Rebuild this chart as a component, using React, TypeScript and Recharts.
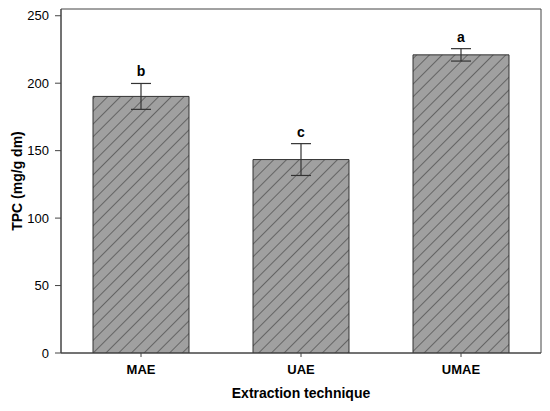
import React from "react";
import {
  ComposedChart,
  Bar,
  Line,
  XAxis,
  YAxis,
  ErrorBar,
  LabelList,
  Label,
  ReferenceArea,
} from "recharts";

// Values
const techniques = ["MAE", "UAE", "UMAE"];
const tpcMeans = [190.2, 143.4, 221.0];
const tpcErrors = [9.6, 11.8, 4.6];
const groupLetters = ["b", "c", "a"];
const yTicks = [0, 50, 100, 150, 200, 250];
const yMax = 255;

const data = techniques.map((name, i) => ({
  name,
  tpc: tpcMeans[i],
  err: tpcErrors[i],
  top: tpcMeans[i] + tpcErrors[i],
  letter: groupLetters[i],
}));

const FONT = "Arial, 'Liberation Sans', sans-serif";
const AXIS = "#444";

const YTitle = (props: any) => {
  const vb = props.viewBox;
  const cx = vb.x + 17;
  const cy = vb.y + vb.height / 2;
  return (
    <text
      x={cx}
      y={cy}
      transform={`rotate(-90 ${cx} ${cy})`}
      textAnchor="middle"
      dominantBaseline="central"
      fontFamily={FONT}
      fontSize={14}
      fontWeight="bold"
      fill="#000"
    >
      TPC (mg/g dm)
    </text>
  );
};

const XTitle = (props: any) => {
  const vb = props.viewBox;
  const cx = vb.x + vb.width / 2;
  const cy = vb.y + 40;
  return (
    <text
      x={cx}
      y={cy}
      textAnchor="middle"
      dominantBaseline="central"
      fontFamily={FONT}
      fontSize={14}
      fontWeight="bold"
      fill="#000"
    >
      Extraction technique
    </text>
  );
};

export default function App() {
  return (
    <div style={{ position: "absolute", left: 0, top: 0, width: 550, height: 411, background: "#fff" }}>
      <ComposedChart
        width={550}
        height={411}
        data={data}
        margin={{ top: 9, right: 9, bottom: 0, left: 0 }}
        barCategoryGap="20%"
      >
        <defs>
          <pattern
            id="hatch"
            width="9"
            height="9"
            patternUnits="userSpaceOnUse"
            patternTransform="rotate(45)"
          >
            <rect width="9" height="9" fill="#a0a0a0" />
            <line x1="0" y1="0" x2="0" y2="9" stroke="#2a2a2a" strokeWidth="1" />
          </pattern>
        </defs>
        <XAxis
          dataKey="name"
          height={58}
          stroke={AXIS}
          tickSize={4}
          tickMargin={8}
          tick={{ fill: "#000", fontSize: 13, fontWeight: "bold", fontFamily: FONT }}
        >
          <Label content={<XTitle />} />
        </XAxis>
        <YAxis
          width={61}
          domain={[0, yMax]}
          ticks={yTicks}
          stroke={AXIS}
          tickSize={6}
          tickMargin={6}
          allowDataOverflow
          tick={{ fill: "#000", fontSize: 13, fontFamily: FONT }}
        >
          <Label content={<YTitle />} />
        </YAxis>
        <ReferenceArea
          x1={techniques[0]}
          x2={techniques[techniques.length - 1]}
          y1={0}
          y2={yMax}
          fill="none"
          fillOpacity={0}
          stroke={AXIS}
          strokeWidth={1}
          strokeOpacity={1}
        />
        <Bar
          dataKey="tpc"
          fill="url(#hatch)"
          stroke="#333"
          strokeWidth={1}
          isAnimationActive={false}
        >
          <ErrorBar dataKey="err" width={10} stroke="#333" strokeWidth={1.2} />
        </Bar>
        <Line
          dataKey="top"
          stroke="none"
          dot={false}
          activeDot={false}
          isAnimationActive={false}
        >
          <LabelList
            dataKey="letter"
            position="top"
            offset={7}
            fill="#000"
            fontSize={14}
            fontWeight="bold"
            fontFamily={FONT}
          />
        </Line>
      </ComposedChart>
    </div>
  );
}
